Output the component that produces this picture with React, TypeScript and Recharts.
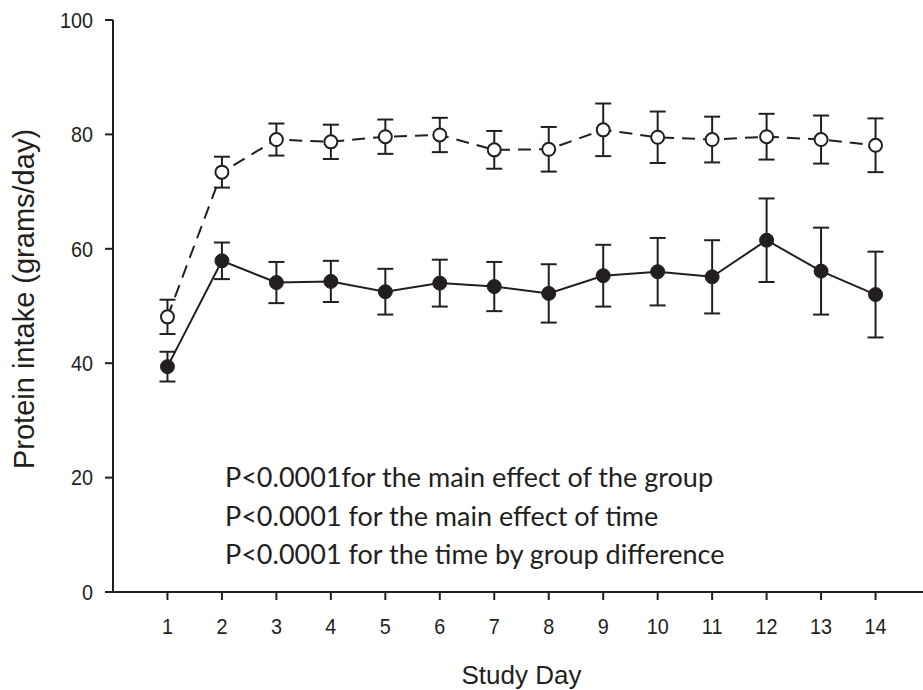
import { LineChart, Line, XAxis, YAxis, ErrorBar } from 'recharts';

const days = [1, 2, 3, 4, 5, 6, 7, 8, 9, 10, 11, 12, 13, 14];
const openMean = [48.1, 73.4, 79.1, 78.7, 79.6, 79.9, 77.3, 77.4, 80.8, 79.5, 79.1, 79.6, 79.1, 78.1];
const openErr = [3.0, 2.7, 2.8, 3.0, 3.0, 3.0, 3.3, 3.9, 4.6, 4.5, 4.0, 4.0, 4.2, 4.7];
const filledMean = [39.4, 57.9, 54.1, 54.3, 52.5, 54.0, 53.4, 52.2, 55.3, 56.0, 55.1, 61.5, 56.1, 52.0];
const filledErr = [2.6, 3.2, 3.6, 3.6, 4.0, 4.1, 4.3, 5.1, 5.4, 5.9, 6.4, 7.3, 7.6, 7.5];
const yTicks = [0, 20, 40, 60, 80, 100];
const notes = [
  'P<0.0001for the main effect of the group',
  'P<0.0001 for the main effect of time',
  'P<0.0001 for the time by group difference',
];

const data = days.map((d, i) => ({
  day: d,
  open: openMean[i],
  openErr: openErr[i],
  filled: filledMean[i],
  filledErr: filledErr[i],
}));

const ink = '#231f20';
const sans = '"Liberation Sans", Arial, sans-serif';

// slightly condensed tick text, like the original figure
const NarrowTick = (props: any) => {
  const { x, y, payload, textAnchor, vertical } = props;
  return (
    <text
      transform={`translate(${x}, ${y}) scale(0.9, 1)`}
      textAnchor={textAnchor}
      dy={vertical ? '0.355em' : '0.71em'}
      style={{ fontFamily: sans, fontSize: 22, fill: ink }}
    >
      {payload.value}
    </text>
  );
};

export default function App() {
  return (
    <div style={{ position: 'absolute', left: 0, top: 0, width: 923, height: 690, overflow: 'hidden', background: '#fff' }}>
      <LineChart width={930} height={690} data={data} margin={{ top: 20, right: 0, left: 0, bottom: 0 }}>
        <XAxis
          dataKey="day"
          type="number"
          domain={[0, 15]}
          ticks={days}
          height={98}
          tickSize={8}
          tickMargin={18}
          stroke={ink}
          strokeWidth={2}
          tick={(p: any) => <NarrowTick {...p} vertical={false} />}
          label={{
            value: 'Study Day',
            position: 'insideBottom',
            offset: 6,
            style: { fontFamily: sans, fontSize: 26, fill: ink },
          }}
        />
        <YAxis
          domain={[0, 100]}
          ticks={yTicks}
          width={113}
          tickSize={8}
          tickMargin={12}
          stroke={ink}
          strokeWidth={2}
          tick={(p: any) => <NarrowTick {...p} vertical={true} />}
          label={{
            value: 'Protein intake (grams/day)',
            content: (props: any) => {
              const vb = props.viewBox || { x: 0, y: 20, height: 572 };
              const cy = vb.y + vb.height / 2 - 7;
              return (
                <text
                  transform={`translate(34, ${cy}) rotate(-90)`}
                  textAnchor="middle"
                  style={{ fontFamily: sans, fontSize: 29, fill: ink }}
                >
                  Protein intake (grams/day)
                </text>
              );
            },
          }}
        />
        <Line
          dataKey="filled"
          stroke={ink}
          strokeWidth={2}
          type="linear"
          isAnimationActive={false}
          dot={{ r: 7, fill: ink, stroke: ink, strokeWidth: 1 }}
        >
          <ErrorBar dataKey="filledErr" direction="y" width={8} stroke={ink} strokeWidth={2} />
        </Line>
        <Line
          dataKey="open"
          stroke={ink}
          strokeWidth={2}
          strokeDasharray="13 8"
          type="linear"
          isAnimationActive={false}
          dot={{ r: 6.5, fill: '#fff', stroke: ink, strokeWidth: 2, strokeDasharray: '' }}
        >
          <ErrorBar dataKey="openErr" direction="y" width={8} stroke={ink} strokeWidth={2} />
        </Line>
      </LineChart>
      <div
        style={{
          position: 'absolute',
          left: 225,
          top: 458,
          fontFamily: 'Lato, "Open Sans", sans-serif',
          fontSize: 27,
          lineHeight: '38.5px',
          color: ink,
          whiteSpace: 'nowrap',
        }}
      >
        {notes.map((n) => (
          <div key={n}>{n}</div>
        ))}
      </div>
    </div>
  );
}
